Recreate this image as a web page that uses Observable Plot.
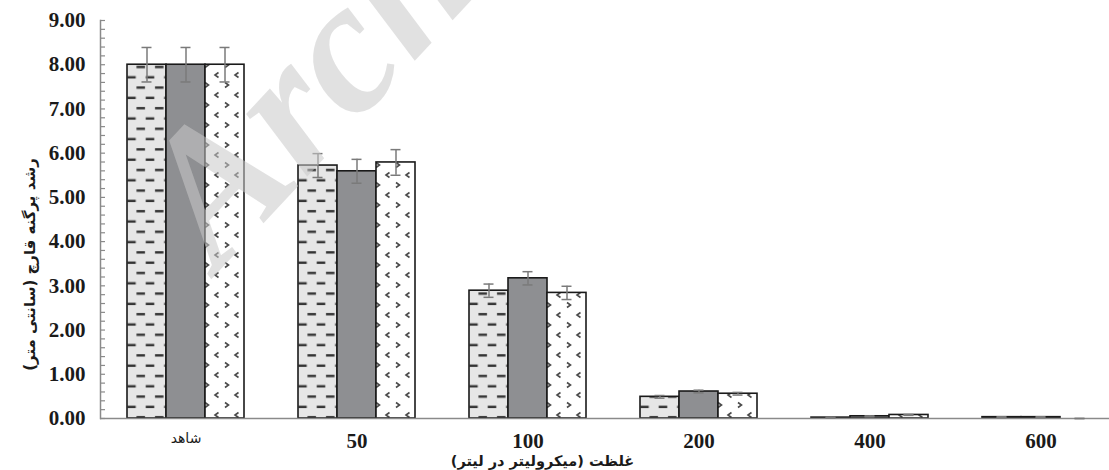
<!DOCTYPE html>
<html><head><meta charset="utf-8">
<script src="https://cdn.jsdelivr.net/npm/d3@7"></script>
<script src="https://cdn.jsdelivr.net/npm/@observablehq/plot@0.6"></script>
<style>
html,body{margin:0;padding:0;background:#fff;overflow:hidden;}
#chart{position:relative;width:1109px;height:470px;}
</style></head><body><div id="chart"></div>
<script>
// ---- data ----
const categories = ["شاهد", "50", "100", "200", "400", "600"];
const seriesNames = ["T1", "T2", "T3"];
const means1 = [8.00, 5.72, 2.89, 0.49, 0.02, 0.03];
const means2 = [8.00, 5.59, 3.17, 0.61, 0.05, 0.03];
const means3 = [8.00, 5.79, 2.84, 0.56, 0.08, 0.00];
const err1 = [0.39, 0.27, 0.15, 0.03, 0.01, 0.01];
const err2 = [0.39, 0.27, 0.15, 0.03, 0.01, 0.01];
const err3 = [0.39, 0.29, 0.15, 0.03, 0.01, 0.00];
const yTicks = [0, 1, 2, 3, 4, 5, 6, 7, 8, 9];
const yMinorTicks = d3.range(0, 46).map(i => i / 5);
const xTitle = "غلظت (میکرولیتر در لیتر)";
const yTitle = "رشد پرگنه قارچ (سانتی متر)";

const meanSets = [means1, means2, means3];
const errSets = [err1, err2, err3];
const rows = [];
categories.forEach((c, i) => seriesNames.forEach((s, k) =>
  rows.push({cat: c, series: s, mean: meanSets[k][i], err: errSets[k][i]})));

const fills = {T1: "url(#patDash)", T2: "#8e8f92", T3: "url(#patChev)"};
const serif = "'Liberation Serif','Times New Roman',serif";
const errColor = "#7a7a7a";

const plot = Plot.plot({
  width: 1109, height: 470,
  marginTop: 20, marginBottom: 52, marginLeft: 98, marginRight: -18,
  style: {fontFamily: serif, fontSize: "21px", fontWeight: "bold", background: "#fff", overflow: "hidden", color: "#1a1a1a"},
  fx: {domain: categories, padding: 0},
  x: {domain: seriesNames, paddingInner: 0, paddingOuter: 0.682, axis: null},
  y: {domain: [0, 9], axis: null},
  marks: [
    ...seriesNames.map(s => Plot.barY(rows.filter(d => d.series === s), {
      fx: "cat", x: "series", y: "mean", fill: fills[s], stroke: "#1a1a1a", strokeWidth: 1.6
    })),
    Plot.ruleY([0], {stroke: "#8a8a8a", strokeWidth: 1.5}),
    Plot.ruleX(rows, {fx: "cat", x: "series", y1: d => d.mean - d.err, y2: d => d.mean + d.err, stroke: errColor, strokeWidth: 1.5}),
    Plot.tickY(rows, {fx: "cat", x: "series", y: d => d.mean + d.err, stroke: errColor, strokeWidth: 1.5, inset: 14.5}),
    Plot.tickY(rows, {fx: "cat", x: "series", y: d => d.mean - d.err, stroke: errColor, strokeWidth: 1.5, inset: 14.5}),
    Plot.frame({anchor: "left", facetAnchor: "left", stroke: "#8a8a8a", strokeWidth: 1.5}),
    Plot.axisY(yMinorTicks, {tickSize: 5, dx: 5, text: null, label: null, stroke: "#8a8a8a", strokeWidth: 1.2}),
    Plot.axisY(yTicks, {tickSize: 0, tickPadding: 15, tickFormat: d => d.toFixed(2),
      label: yTitle, labelAnchor: "center", labelOffset: 76, labelArrow: false}),
    Plot.axisFx({anchor: "bottom", tickSize: 0, tickPadding: 15, label: xTitle, labelAnchor: "center", labelOffset: 47, labelArrow: false})
  ]
});

document.getElementById("chart").appendChild(plot);
const svg = d3.select(plot.tagName.toLowerCase() === "svg" ? plot : plot.querySelector("svg"));

// patterns
const defs = svg.insert("defs", ":first-child");
const pd = defs.append("pattern").attr("id", "patDash").attr("patternUnits", "userSpaceOnUse")
  .attr("width", 18.5).attr("height", 20.6);
pd.append("rect").attr("width", 18.5).attr("height", 20.6).attr("fill", "#e6e6e6");
pd.append("rect").attr("x", 5).attr("y", 4).attr("width", 8.5).attr("height", 2.4).attr("fill", "#333");
pd.append("rect").attr("x", -4.25).attr("y", 14.3).attr("width", 8.5).attr("height", 2.4).attr("fill", "#333");
pd.append("rect").attr("x", 14.25).attr("y", 14.3).attr("width", 8.5).attr("height", 2.4).attr("fill", "#333");

const pc = defs.append("pattern").attr("id", "patChev").attr("patternUnits", "userSpaceOnUse")
  .attr("width", 20).attr("height", 20);
pc.append("rect").attr("width", 20).attr("height", 20).attr("fill", "#fff");
pc.append("path").attr("d", "M3,2.5 L6.5,5 L3,7.5").attr("fill", "none").attr("stroke", "#4a4a4a").attr("stroke-width", 1.6);
pc.append("path").attr("d", "M16.5,12.5 L13,15 L16.5,17.5").attr("fill", "none").attr("stroke", "#4a4a4a").attr("stroke-width", 1.6);

// text styling
svg.selectAll('[aria-label="fx-axis tick label"] text').each(function() {
  const t = d3.select(this);
  if (t.text() === "شاهد") t.style("font-family", "'DejaVu Sans',sans-serif").style("font-weight", "normal").style("font-size", "14px");
});
function moveLabel(sel, nx, ny) {
  svg.selectAll(sel).each(function() {
    const t = d3.select(this);
    const tr = t.attr("transform") || "";
    const m = tr.match(/translate\(\s*([-\d.e]+)[ ,]+([-\d.e]+)\s*\)(.*)/);
    if (m) {
      const x = nx == null ? +m[1] : nx, y = ny == null ? +m[2] : ny;
      t.attr("transform", `translate(${x},${y})${m[3]}`);
    }
  });
}
svg.selectAll('[aria-label="y-axis label"] text')
  .style("font-family", "'DejaVu Sans',sans-serif").style("font-size", "15px").style("font-weight", "bold");
svg.selectAll('[aria-label="fx-axis label"] text')
  .style("font-family", "'DejaVu Sans',sans-serif").style("font-size", "14.5px").style("font-weight", "bold");
moveLabel('[aria-label="fx-axis label"] text', 542, null);
moveLabel('[aria-label="y-axis label"] text', null, 264);

// watermark
svg.append("text").text("Archive of SID")
  .attr("transform", "translate(218,272) rotate(-47)")
  .attr("text-anchor", "start")
  .attr("fill", "#c8c8c8").attr("fill-opacity", 0.55)
  .style("font-family", serif).style("font-size", "190px").style("font-style", "italic").style("font-weight", "bold");
</script></body></html>
